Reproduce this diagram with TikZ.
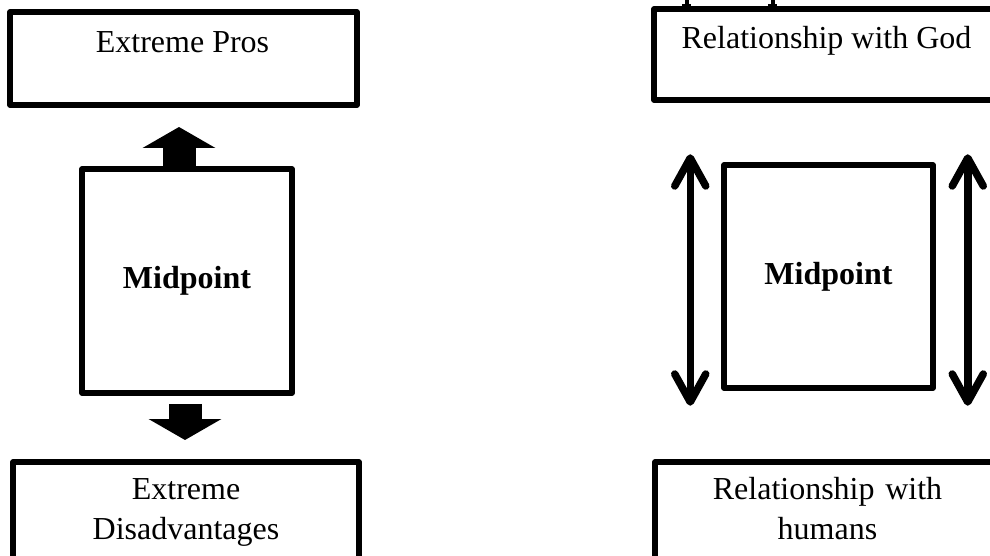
\documentclass[tikz,border=0pt]{standalone}
\usepackage{fontspec}
\setmainfont{Liberation Serif}
\usetikzlibrary{arrows.meta,calc}
\tikzset{
  framebox/.style ={draw=black, line width=5.5pt, line join=round, fill=white,
                    inner sep=0pt},
  boxtext/.style  ={font=\fontsize{32}{40}\selectfont, align=center,
                    inner sep=0pt, anchor=base},
  midtext/.style  ={font=\fontsize{32}{36}\selectfont\bfseries},
  blockarr/.style ={-{Triangle[length=21pt,width=72pt]}, line width=33pt},
  dblarr/.style   ={{Straight Barb[length=28pt,width=31pt,round]}-{Straight Barb[length=28pt,width=31pt,round]},
                    line width=7.5pt, line cap=round},
}
\begin{document}
\begin{tikzpicture}[x=1pt,y=-1pt]
    \useasboundingbox (0,0) rectangle (990,556);
    \clip (0,0) rectangle (990,556);

    % left: pros / midpoint / disadvantages
    \node[framebox,minimum width=347pt,minimum height=93pt]  (pros) at (183.5,58.5) {};
    \node[framebox,midtext,minimum width=210pt,minimum height=224pt] (midL) at (187,281) {Midpoint};
    \node[framebox,minimum width=346pt,minimum height=120pt] (cons) at (186,522) {};
    \node[boxtext] (prostext) at ([xshift=-1pt,yshift=-43pt]pros.north) {Extreme Pros};
    \node[boxtext,text width=340pt] (constext) at ([yshift=-40pt]cons.north) {Extreme\\Disadvantages};

    \coordinate (uptip)   at (179,127);
    \coordinate (downtip) at (185,440);
    \draw[blockarr] ([xshift=-8pt]midL.north) -- (uptip);
    \draw[blockarr] ([xshift=-2pt,yshift=-8pt]midL.south) -- (downtip);

    % right: god / midpoint / humans
    \node[framebox,minimum width=345pt,minimum height=91pt]  (god) at (826.5,54.5) {};
    \node[framebox,midtext,minimum width=209pt,minimum height=223pt] (midR) at (828.5,276.5) {Midpoint};
    \node[framebox,minimum width=345pt,minimum height=120pt] (humans) at (827.5,522) {};
    \node[boxtext] (godtext) at ([yshift=-42pt]god.north) {Relationship with God};
    \node[boxtext,text width=340pt] (humanstext) at ([yshift=-40pt]humans.north) {Relationship with\\humans};

    \draw[dblarr] ([xshift=-31pt,yshift=8pt]midR.north west) -- ([xshift=-31pt,yshift=-15pt]midR.south west);
    \draw[dblarr] ([xshift=32pt,yshift=8pt]midR.north east) -- ([xshift=32pt,yshift=-15pt]midR.south east);

    % clipped heading remains
    \fill (685,0) rectangle (689,6);
    \fill (682,4) rectangle (691,6);
    \fill (771,0) rectangle (775,6);
    \fill (768,4) rectangle (777,6);
  \end{tikzpicture}
\end{document}
